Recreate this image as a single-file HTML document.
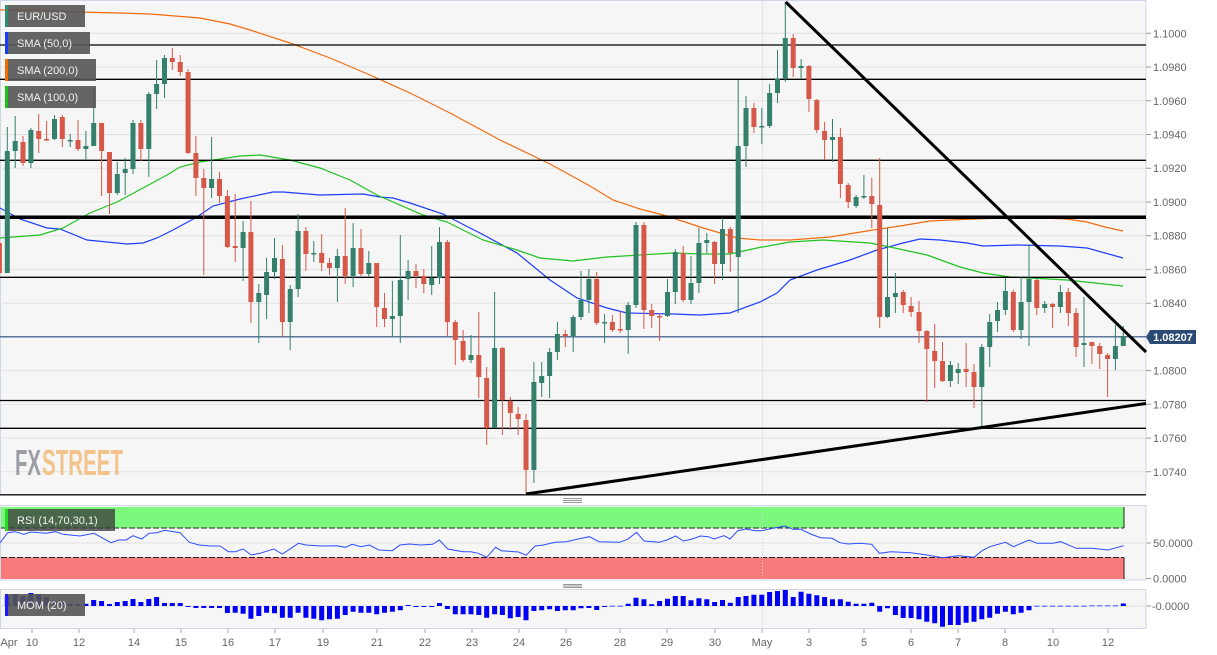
<!DOCTYPE html>
<html><head><meta charset="utf-8"><style>
html,body{margin:0;padding:0;background:#fff;}
svg{display:block;font-family:"Liberation Sans",Arial,sans-serif;}
.ax{font-size:11px;fill:#666;}
.lg{font-size:11px;fill:#f2f2f2;}
</style></head><body>
<svg width="1217" height="655" viewBox="0 0 1217 655" xmlns="http://www.w3.org/2000/svg">
<rect x="0" y="0" width="1217" height="655" fill="#fff"/>
<!-- main plot -->
<rect x="0.5" y="0.5" width="1145.5" height="494.5" fill="#f6f6f6" stroke="#cfd6e6" stroke-width="1"/>
<g stroke="#e2e2e2" stroke-width="1">
<path d="M0 33.3H1146M0 67H1146M0 100.8H1146M0 134.5H1146M0 168.2H1146M0 202H1146M0 235.7H1146M0 269.4H1146M0 303.2H1146M0 336.9H1146M0 370.6H1146M0 404.3H1146M0 438.1H1146M0 471.8H1146"/>
</g>
<path d="M762.5 1V494" stroke="#e3e3e3" stroke-width="1.2"/>
<!-- y ticks -->
<g stroke="#999" stroke-width="1">
<path d="M1146 33.3h5M1146 67h5M1146 100.8h5M1146 134.5h5M1146 168.2h5M1146 202h5M1146 235.7h5M1146 269.4h5M1146 303.2h5M1146 370.6h5M1146 404.3h5M1146 438.1h5M1146 471.8h5M1146 543h5M1146 578.5h5M1146 606h5"/>
</g>
<g class="ax">
<text x="1153" y="37.3">1.1000</text>
<text x="1153" y="71">1.0980</text>
<text x="1153" y="104.8">1.0960</text>
<text x="1153" y="138.5">1.0940</text>
<text x="1153" y="172.2">1.0920</text>
<text x="1153" y="206">1.0900</text>
<text x="1153" y="239.7">1.0880</text>
<text x="1153" y="273.4">1.0860</text>
<text x="1153" y="307.2">1.0840</text>
<text x="1153" y="374.6">1.0800</text>
<text x="1153" y="408.3">1.0780</text>
<text x="1153" y="442.1">1.0760</text>
<text x="1153" y="475.8">1.0740</text>
</g>
<!-- logo -->
<text x="15" y="475" font-size="36" font-weight="bold" fill="#9c9ea6" textLength="26" lengthAdjust="spacingAndGlyphs">FX</text>
<text x="42" y="475" font-size="36" font-weight="bold" fill="#f3c38c" textLength="81" lengthAdjust="spacingAndGlyphs">STREET</text>
<!-- SMA lines -->
<polyline fill="none" stroke="#f26b0f" stroke-width="1.2" points="0,10 40,10 77,12 120,13 150,14 200,18 230,24 250,30 290,43 330,58 370,75 410,93 450,113 500,140 550,164 590,186 613,200 640,209 667,216 700,227 737,238 760,240 790,240 830,237 873,230 900,226 930,221 950,220 1000,218 1040,218 1067,219 1087,222 1105,227 1123,231"/>
<polyline fill="none" stroke="#1f3cff" stroke-width="1.2" points="0,208 20,219 47,228 60,229 87,240 127,244 143,243 157,238 173,230 197,217 213,206 240,199 273,192 283,192 320,195 363,194 380,197 393,198 410,203 443,214 470,228 480,233 517,253 550,280 577,298 607,308 627,313 673,314 700,315 730,313 760,302 777,293 790,280 817,270 850,260 877,250 903,243 920,239 940,240 967,243 983,246 1017,245 1060,246 1087,248 1123,258"/>
<polyline fill="none" stroke="#1fc21f" stroke-width="1.2" points="0,238 40,235 63,228 90,213 117,202 143,188 167,175 180,167 200,162 240,156 260,155 290,160 320,168 350,180 377,195 423,215 447,222 483,240 517,250 540,258 573,261 607,257 673,253 700,254 730,254 757,248 790,242 823,240 870,243 890,247 927,255 960,267 983,273 1010,277 1067,280 1123,286"/>
<!-- level lines -->
<g stroke="#000" stroke-width="1.3">
<path d="M0 45H1146M0 79.3H1146M0 160.3H1146M0 277.3H1146M0 400.5H1146M0 428.3H1146"/>
</g>
<path d="M0 217.3H1146" stroke="#000" stroke-width="3.5"/>
<path d="M0 494.8H1146" stroke="#111" stroke-width="1.3"/>
<path d="M0 336.8H1146" stroke="#2b4c7e" stroke-width="1.2"/>
<!-- candles -->
<path fill="none" stroke="#34806c" stroke-width="1" d="M7.3 127V273 M15.2 116V168 M30.9 128V168 M54.5 115V140 M70.2 134V147 M85.9 131V160 M93.7 89V146 M117.3 162V195 M125.2 158V195 M133 120V174 M148.8 92V177 M156.6 60V109 M164.5 55V98 M211.6 137V198 M243.1 221V281 M258.8 284V343 M266.6 258V319 M274.5 238V279 M290.2 285V350 M298.1 214V297 M313.8 241V262 M337.4 249V302 M353.1 223V287 M368.8 251V277 M392.4 281V337 M400.3 235V343 M408.1 260V300 M431.7 246V295 M439.5 227V284 M471 335V363 M494.6 292V428 M533.9 362V483 M541.7 362V397 M549.6 348V398 M557.4 322V360 M573.2 315V352 M581 271V320 M588.9 269V313 M604.6 314V343 M628.2 302V354 M636 222V308 M667.5 279V317 M675.3 249V304 M691 256V304 M698.9 228V293 M706.8 233V253 M722.5 218V280 M738.2 80V313 M746 96V167 M761.8 108V144 M769.6 84V128 M777.5 50V103 M785.3 2V82 M801.1 59V79 M832.5 119V162 M856.1 195V208 M863.9 175V199 M887.5 228V318 M895.4 273V313 M950.4 361V387 M958.2 363V384 M981.8 344V427 M989.7 314V367 M997.5 302V332 M1005.4 278V315 M1021.1 277V339 M1029 244V346 M1044.7 301V313 M1060.4 285V313 M1084 297V367 M1115.4 325V370 M1123.3 326V346"/>
<path fill="none" stroke="#34806c" stroke-width="5" d="M7.3 151V273 M15.2 141V151 M30.9 130V163 M54.5 119V139 M70.2 140V141.5 M85.9 146V149 M93.7 123V146 M117.3 174V193 M125.2 169V173 M133 123V169 M148.8 94V149 M156.6 84V94 M164.5 58V84 M211.6 179V188 M243.1 232V248 M258.8 293V302 M266.6 272V295 M274.5 258V272 M290.2 289V322 M298.1 231V289 M313.8 253V254.5 M337.4 256V268 M353.1 248V276 M368.8 263V274 M392.4 316V319 M400.3 280V316 M408.1 271V279 M431.7 278V285 M439.5 242V278 M471 355V360 M494.6 348V428 M533.9 382V470 M541.7 376V383 M549.6 352V376 M557.4 334V352 M573.2 317V336 M581 300V317 M588.9 279V300 M604.6 322V323.5 M628.2 305V330 M636 225V305 M667.5 292V316 M675.3 252V292 M691 283V300 M698.9 243V283 M706.8 240V243 M722.5 229V264 M738.2 146V257 M746 108V146 M761.8 126V127.5 M769.6 93V126 M777.5 79V93 M785.3 38V79 M801.1 66V68 M832.5 137V140 M856.1 197V206 M863.9 196V197.5 M887.5 297V317 M895.4 293V297 M950.4 365V381 M958.2 369V373 M981.8 347V387 M989.7 322V347 M997.5 310V321 M1005.4 291V310 M1021.1 302V330 M1029 279V302 M1044.7 304V308 M1060.4 292V307 M1084 343V345 M1115.4 346V359 M1123.3 336V346"/>
<path fill="none" stroke="#d65848" stroke-width="1" d="M-0.6 240V287 M23 136V166 M38.7 114V153 M46.6 121V141 M62.3 115V147 M78 120V151 M101.6 123V196 M109.5 152V214 M140.9 120V161 M172.3 48V70 M180.2 55V76 M188.1 69V154 M195.9 136V196 M203.8 169V275 M219.5 172V203 M227.4 190V248 M235.2 194V262 M250.9 201V323 M282.4 245V337 M305.9 227V271 M321.7 234V271 M329.5 258V275 M345.2 208V284 M361 229V276 M376.7 263V327 M384.5 293V327 M416 264V288 M423.8 269V293 M447.4 240V336 M455.3 320V365 M463.1 330V362 M478.8 312V398 M486.7 367V445 M502.4 347V435 M510.3 397V430 M518.1 407V435 M526 414V493 M565.3 330V347 M596.7 272V325 M612.4 315V332 M620.3 311V333 M643.9 222V329 M651.7 304V328 M659.6 313V341 M683.2 246V302 M714.6 241V284 M730.3 227V272 M753.9 103V133 M793.2 34V77 M808.9 65V112 M816.8 99V133 M824.6 122V160 M840.4 128V198 M848.2 183V208 M871.8 178V228 M879.7 158V328 M903.2 290V313 M911.1 297V317 M919 301V343 M926.8 330V402 M934.7 324V388 M942.5 342V382 M966.1 343V387 M974 364V408 M1013.3 290V332 M1036.8 279V315 M1052.6 303V328 M1068.3 288V326 M1076.1 308V357 M1091.9 342V364 M1099.7 343V369 M1107.6 353V397"/>
<path fill="none" stroke="#d65848" stroke-width="5" d="M-0.6 243V273 M23 142V163 M38.7 131V139 M46.6 139V140.5 M62.3 117V139 M78 140V149 M101.6 123V151 M109.5 152V193 M140.9 123V149 M172.3 58V62 M180.2 62V72 M188.1 72V153 M195.9 153V178 M203.8 178V188 M219.5 179V196 M227.4 196V247 M235.2 246V248 M250.9 232V302 M282.4 259V322 M305.9 231V254 M321.7 253V263 M329.5 263V268 M345.2 256V276 M361 248V274 M376.7 263V307 M384.5 308V319 M416 271V276 M423.8 276V284 M447.4 242V322 M455.3 322V340 M463.1 341V360 M478.8 355V377 M486.7 378V428 M502.4 348V400 M510.3 401V413 M518.1 414V419 M526 420V470 M565.3 334V336 M596.7 279V323 M612.4 322V330 M620.3 329V330.5 M643.9 225V310 M651.7 310V316 M659.6 316V317.5 M683.2 253V300 M714.6 242V264 M730.3 229V253 M753.9 108V127 M793.2 38V68 M808.9 66V99 M816.8 100V130 M824.6 131V140 M840.4 137V184 M848.2 185V202 M871.8 196V204 M879.7 205V317 M903.2 292V305 M911.1 306V312 M919 312V331 M926.8 331V349 M934.7 351V361 M942.5 361V381 M966.1 369V372 M974 372V387 M1013.3 292V330 M1036.8 280V308 M1052.6 304V307 M1068.3 292V313 M1076.1 313V347 M1091.9 342V346 M1099.7 346V354 M1107.6 355V359"/>
<!-- trend lines -->
<path d="M785.7 2L1146 352" stroke="#000" stroke-width="3" fill="none"/>
<path d="M526 494L1146 403.5" stroke="#000" stroke-width="3" fill="none"/>
<!-- price tag -->
<polygon points="1146,337 1150,330 1196,330 1196,344 1150,344" fill="#2b4a74"/>
<text x="1173" y="341" font-size="11" font-weight="bold" fill="#fff" text-anchor="middle">1.08207</text>
<!-- legends -->
<rect x="5" y="5" width="80" height="22" fill="#555" fill-opacity="0.9"/>
<rect x="5" y="5" width="3" height="22" fill="#2e8b74"/>
<text class="lg" x="17" y="20">EUR/USD</text>
<rect x="5" y="32" width="85" height="22" fill="#555" fill-opacity="0.9"/>
<rect x="5" y="32" width="3" height="22" fill="#1a3cff"/>
<text class="lg" x="17" y="47">SMA (50,0)</text>
<rect x="5" y="59" width="91" height="22" fill="#555" fill-opacity="0.9"/>
<rect x="5" y="59" width="3" height="22" fill="#ef6c00"/>
<text class="lg" x="17" y="74">SMA (200,0)</text>
<rect x="5" y="86" width="91" height="22" fill="#555" fill-opacity="0.9"/>
<rect x="5" y="86" width="3" height="22" fill="#17c317"/>
<text class="lg" x="17" y="101">SMA (100,0)</text>
<!-- handles -->
<g stroke="#777" stroke-width="0.8">
<path d="M563 498.5h19M563 500.5h19M563 502.5h19M563 584.5h19M563 586h19M563 587.5h19"/>
</g>
<!-- RSI panel -->
<rect x="0.5" y="505.5" width="1145.5" height="74.5" fill="#f6f6f6" stroke="#cfd6e6" stroke-width="1"/>
<rect x="1" y="507" width="1123" height="21" fill="#7cf97c"/>
<rect x="1" y="557.5" width="1123" height="21.5" fill="#f97a7a"/>
<path d="M1 528H1124M1 557.5H1124" stroke="#222" stroke-width="1" stroke-dasharray="6 2"/>
<path d="M1124 507V528M1124 557.5V579" stroke="#222" stroke-width="1"/>
<path d="M0 543H1146" stroke="#e0e0e0" stroke-width="1"/>
<path d="M762.5 506V580" stroke="#d8d8d8" stroke-width="1" stroke-dasharray="1 2"/>
<polyline fill="none" stroke="#2d4dff" stroke-width="1" points="0,543 7.7,532.7 15.3,531.7 23.7,534.3 30.6,532 46,533.3 55.5,531.7 63,534.3 80,536 94,533.3 111,542.7 118.6,540 126,540 133,535.7 141.6,539 149,533.3 157,532.7 164.6,530.3 180,532.7 189.4,542.3 199,545 210.5,546 220,546 228.5,551.7 235.4,551.7 243,549 251.4,555 260,553.3 273.6,549 282.4,554 291,548.3 298.5,543.3 306,545 321.5,546 336.8,545.7 345.6,547.3 352,544.3 361,546.7 369.3,545 378.9,550 392.3,550.7 400,545 409.5,544 421,545 432.5,544.3 439.3,540 447.8,549 463,551.7 470.7,551.7 478.4,553.3 486.8,557.3 495.6,547.3 501.3,550.7 518.6,552 526.2,555.3 535,546 543.4,545 555,542.3 566.4,541.7 578,539 589.4,536.7 599,541.7 619.7,542.3 627.6,539.3 636.6,532.3 644,541 659,542.3 667,540 675.6,536 683.5,541 692.5,539 700.4,536 708.3,536.7 714,539 724,535.7 730,539 737.8,530.7 745.7,529 755.5,530.7 761.4,530.7 773,528.3 785,526 793,529.3 800.8,529.3 810.6,534 820.5,537.7 832,538.3 840,542.7 848,544 859.8,543.3 871.7,544.3 879.5,553.3 891.3,551.7 911,552.7 926.8,555 942.5,557.7 958.3,555.7 974,557.3 982,550.7 989.8,546.7 1005.5,542.3 1013.4,546.7 1029,540 1037,543.3 1052.8,543.3 1060.6,541.7 1076.4,548.3 1092,548.3 1108,550 1123.6,545.7"/>
<rect x="5" y="509" width="110" height="22" fill="#3c3c3c" fill-opacity="0.78"/>
<rect x="5" y="509" width="3" height="22" fill="#22dd22"/>
<text class="lg" x="17" y="524">RSI (14,70,30,1)</text>
<text class="ax" x="1153" y="547">50.0000</text>
<text class="ax" x="1153" y="582.5">0.0000</text>
<!-- MOM panel -->
<rect x="0.5" y="589.5" width="1145.5" height="39" fill="#f6f6f6" stroke="#cfd6e6" stroke-width="1"/>
<path d="M0 606H1146" stroke="#e0e0e0" stroke-width="1"/>
<path d="M762.5 590V628" stroke="#e3e3e3" stroke-width="1"/>
<path fill="none" stroke="#0000f5" stroke-width="5" d="M7.3 606V596M15.2 606V594M23 606V596M30.9 606V593M38.7 606V594M46.6 606V597M54.5 606V601M62.3 606V602M70.2 606V604M78 606V604M85.9 606V603.7M93.7 606V600M101.6 606V601M109.5 606V604M117.3 606V602M125.2 606V601M133 606V599M140.9 606V602M148.8 606V599M156.6 606V597M164.5 606V603M172.3 606V603M180.2 606V603M188.1 606V607M195.9 606V608M203.8 606V608M211.6 606V608M219.5 606V608M227.4 606V613M235.2 606V612.7M243.1 606V613.7M250.9 606V618.7M258.8 606V616M266.6 606V612.7M274.5 606V613.3M282.4 606V617.7M290.2 606V617.7M298.1 606V612.7M305.9 606V617.7M313.8 606V618.7M321.7 606V620.3M329.5 606V619.3M337.4 606V618.7M345.2 606V615M353.1 606V611.7M361 606V612.7M368.8 606V612.7M376.7 606V614.3M384.5 606V612.7M392.4 606V611.7M400.3 606V610.3M408.1 606V605M416 606V607M423.8 606V607M431.7 606V607M439.5 606V603M447.4 606V609M455.3 606V614.3M463.1 606V614.3M471 606V614.3M478.8 606V615M486.7 606V617.7M494.6 606V614.3M502.4 606V615M510.3 606V618.3M518.1 606V617M526 606V620.3M533.9 606V611M541.7 606V610.3M549.6 606V609.3M557.4 606V611M565.3 606V610.3M573.2 606V610.3M581 606V608.3M588.9 606V608M596.7 606V610M604.6 606V607M628.2 606V603.7M636 606V597.7M643.9 606V599.3M651.7 606V604.3M659.6 606V601M667.5 606V598.7M675.3 606V596M683.2 606V596M691 606V600.3M698.9 606V598.3M706.8 606V599.3M714.6 606V602M722.5 606V600M730.3 606V602.7M738.2 606V597M746 606V596M753.9 606V594.7M761.8 606V594.7M769.6 606V592M777.5 606V591M785.3 606V590M793.2 606V597M801.1 606V591.7M808.9 606V593.7M816.8 606V595.3M824.6 606V597M832.5 606V599.3M840.4 606V599.3M848.2 606V601.7M856.1 606V603.7M863.9 606V603.7M871.8 606V602.7M879.7 606V611.7M887.5 606V608.3M895.4 606V615M903.2 606V618M911.1 606V618M919 606V619.3M926.8 606V621.7M934.7 606V623.3M942.5 606V626.7M950.4 606V625M958.2 606V625M966.1 606V622.7M974 606V621.7M981.8 606V619.3M989.7 606V617.7M997.5 606V613.7M1005.4 606V611.7M1013.3 606V614.3M1021.1 606V612.7M1029 606V610.3M1123.3 606V603.5"/>
<path fill="none" stroke="#6f7dff" stroke-width="5" d="M612.4 605.5V607M620.3 605.5V607M1036.8 605.5V607M1044.7 605.5V607M1052.6 605.5V607M1060.4 605.5V607M1068.3 605.5V607M1076.1 605.5V607M1084 605.5V607M1091.9 605V606.5M1099.7 605V606.5M1107.6 605V606.5M1115.4 605V606.5"/>
<rect x="5" y="594" width="80" height="22" fill="#555" fill-opacity="0.9"/>
<rect x="5" y="594" width="3" height="22" fill="#1a1aff"/>
<text class="lg" x="17" y="609">MOM (20)</text>
<text class="ax" x="1152" y="610">-0.0000</text>
<!-- x ticks -->
<g stroke="#aaa" stroke-width="1">
<path d="M32 629v4M79 629v4M134 629v4M181 629v4M228 629v4M275 629v4M323 629v4M377 629v4M425 629v4M472 629v4M519 629v4M566 629v4M620 629v4M667 629v4M715 629v4M762 629v4M809 629v4M864 629v4M911 629v4M958 629v4M1005 629v4M1053 629v4M1108 629v4"/>
</g>
<g class="ax" text-anchor="middle">
<text x="9" y="646">Apr</text>
<text x="32" y="646">10</text>
<text x="79" y="646">12</text>
<text x="134" y="646">14</text>
<text x="181" y="646">15</text>
<text x="228" y="646">16</text>
<text x="275" y="646">17</text>
<text x="323" y="646">19</text>
<text x="377" y="646">21</text>
<text x="425" y="646">22</text>
<text x="472" y="646">23</text>
<text x="519" y="646">24</text>
<text x="566" y="646">26</text>
<text x="620" y="646">28</text>
<text x="667" y="646">29</text>
<text x="715" y="646">30</text>
<text x="762" y="646">May</text>
<text x="809" y="646">3</text>
<text x="864" y="646">5</text>
<text x="911" y="646">6</text>
<text x="958" y="646">7</text>
<text x="1005" y="646">8</text>
<text x="1053" y="646">10</text>
<text x="1108" y="646">12</text>
</g>
</svg>
</body></html>
